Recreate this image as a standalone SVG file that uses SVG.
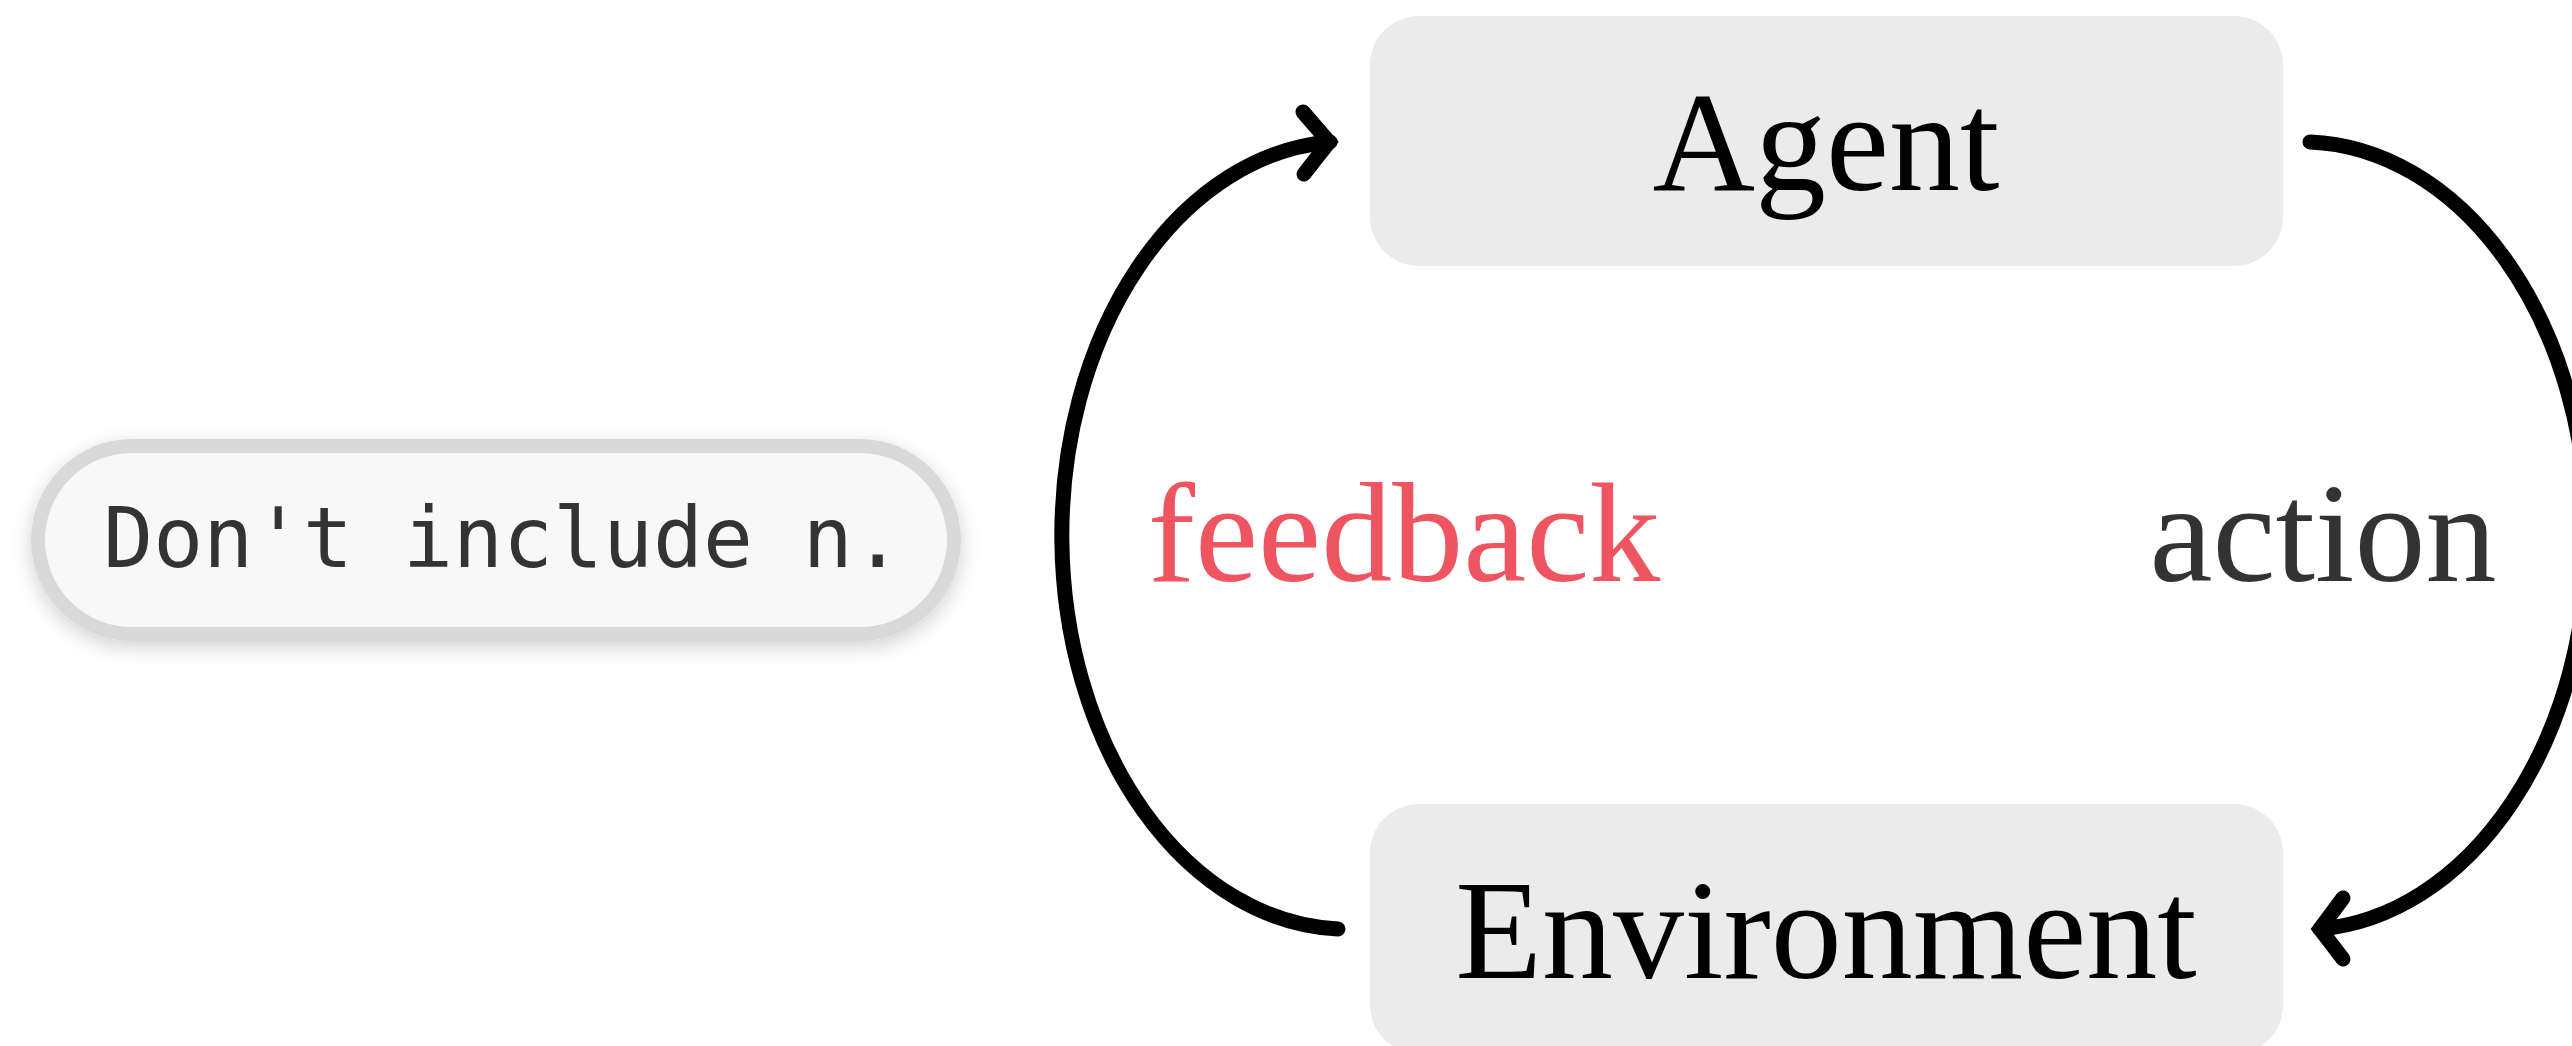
<svg xmlns="http://www.w3.org/2000/svg" width="2572" height="1046" viewBox="0 0 2572 1046">
  <style>
    .node { fill: #ebebeb; }
    .ntext { font-family: "Liberation Serif", "Times New Roman", serif; font-size: 142px; fill: #000; text-anchor: middle; }
    .ltext { font-family: "Liberation Serif", "Times New Roman", serif; font-size: 142px; text-anchor: middle; }
    .conn { fill: none; stroke: #000; stroke-width: 15; stroke-linecap: round; }
    .head { fill: none; stroke: #000; stroke-width: 15; stroke-linecap: round; stroke-linejoin: miter; stroke-miterlimit: 10; }
    .note { fill: #f8f8f8; stroke: #d9d9d9; stroke-width: 14; }
    .ntxt { font-family: "DejaVu Sans Mono", "Liberation Mono", monospace; font-size: 83px; fill: #333; text-anchor: middle; }
  </style>
  <defs>
    <filter id="shadow" x="-10%" y="-30%" width="120%" height="160%">
      <feDropShadow dx="0" dy="6" stdDeviation="10" flood-color="#000" flood-opacity="0.18"/>
    </filter>
  </defs>
  <rect width="2572" height="1046" fill="#fff"/>

  <g id="note">
    <rect class="note" x="38" y="446" width="916" height="188" rx="94" filter="url(#shadow)"/>
    <text class="ntxt" x="503" y="567">Don't include n.</text>
  </g>

  <g id="connectors">
    <g id="feedback">
      <path class="conn" d="M 1338 929 A 286 394 0 0 1 1330 142"/>
      <polyline class="head" points="1303,112 1329,142 1304,174"/>
      <text class="ltext" x="1404" y="581" fill="#ef5561">feedback</text>
    </g>
    <g id="action">
      <path class="conn" d="M 2310 142 A 286 394 0 0 1 2320 929"/>
      <polyline class="head" points="2343,898 2320,929 2343,959"/>
      <text class="ltext" x="2323" y="581" fill="#333">action</text>
    </g>
  </g>

  <g id="agent">
    <rect class="node" x="1370" y="16" width="913" height="250" rx="49"/>
    <text class="ntext" x="1826" y="190">Agent</text>
  </g>

  <g id="environment">
    <rect class="node" x="1370" y="804" width="913" height="250" rx="49"/>
    <text class="ntext" x="1826" y="978">Environment</text>
  </g>
</svg>
